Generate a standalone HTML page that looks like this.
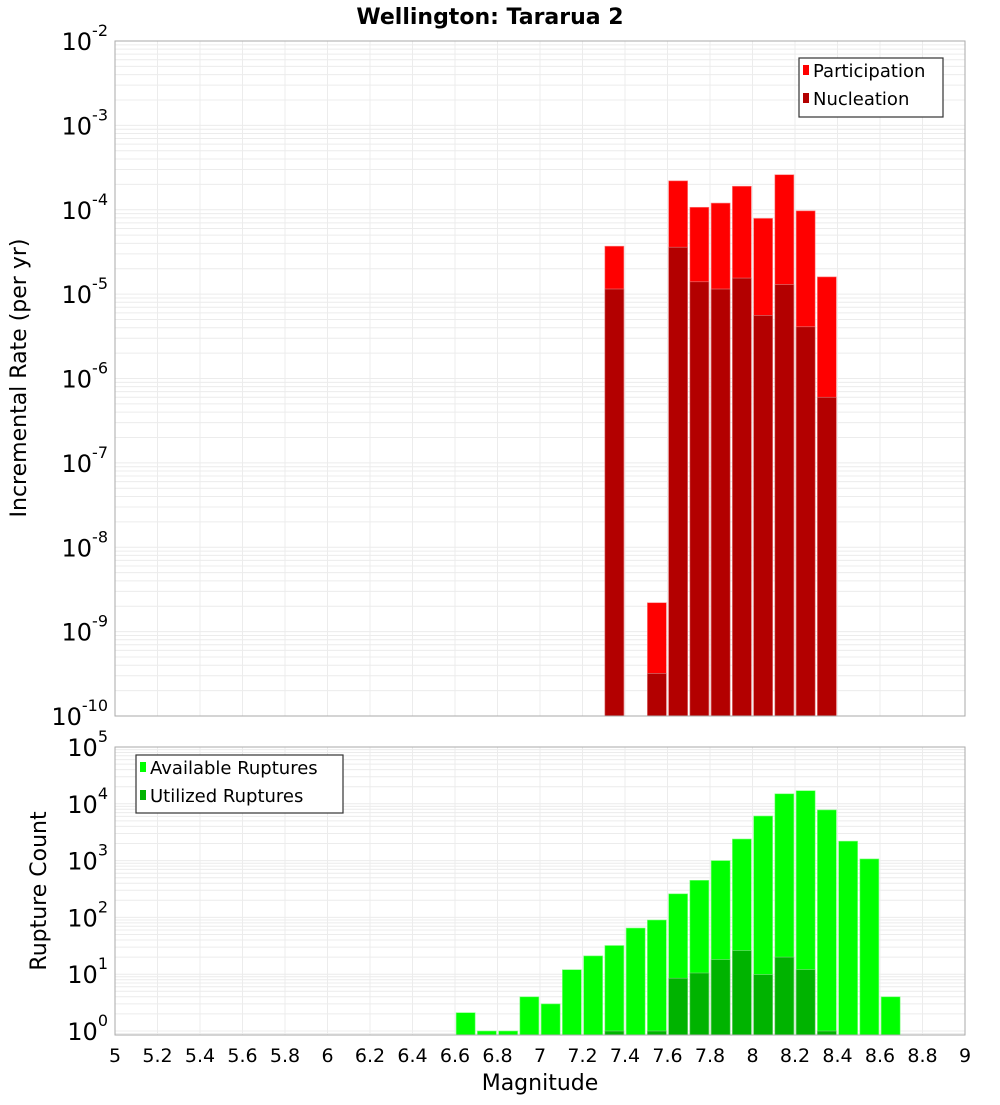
<!DOCTYPE html>
<html><head><meta charset="utf-8"><style>
body{margin:0;background:#fff;}
svg text{font-family:"DejaVu Sans","Liberation Sans",sans-serif;}
</style></head><body>
<svg id="c" width="1000" height="1100" xmlns="http://www.w3.org/2000/svg"></svg>
<script>
const mags=[6.65,6.75,6.85,6.95,7.05,7.15,7.25,7.35,7.45,7.55,7.65,7.75,7.85,7.95,8.05,8.15,8.25,8.35,8.45,8.55,8.65];
const rateMags=[7.35,7.55,7.65,7.75,7.85,7.95,8.05,8.15,8.25,8.35];
const participation=[3.7e-5,2.2e-9,2.2e-4,1.07e-4,1.2e-4,1.9e-4,7.9e-5,2.6e-4,9.7e-5,1.6e-5];
const nucleation=[1.15e-5,3.2e-10,3.6e-5,1.4e-5,1.15e-5,1.55e-5,5.6e-6,1.3e-5,4.1e-6,6e-7];
const available=[2.1,1,1,4,3,12,21,32,65,90,260,450,1000,2400,6100,15000,17000,7800,2200,1070,4];
const utilizedMags=[7.35,7.55,7.65,7.75,7.85,7.95,8.05,8.15,8.25,8.35];
const utilized=[1,1,8.5,10.5,18,26,9.8,20,12,1];
const xTicks=["5","5.2","5.4","5.6","5.8","6","6.2","6.4","6.6","6.8","7","7.2","7.4","7.6","7.8","8","8.2","8.4","8.6","8.8","9"];
const topExps=[-2,-3,-4,-5,-6,-7,-8,-9,-10];
const botExps=[5,4,3,2,1,0];

const svg=document.getElementById('c');
const NS='http://www.w3.org/2000/svg';
function el(tag,attrs,parent){const e=document.createElementNS(NS,tag);for(const k in attrs)e.setAttribute(k,attrs[k]);(parent||svg).appendChild(e);return e;}
const X0=115,X1=965;
const x=m=>X0+(m-5)/4*(X1-X0);
const T0=41,T1=716;
const yTop=v=>T0+(-2-Math.log10(v))*(T1-T0)/8;
const B0=747,DEC=56.8,B1=1035;
const yBot=v=>B0+(5-Math.log10(v))*DEC;
const BW=19;

// backgrounds / grids
function grid(top,bottom,yf,eMin,eMax){
  const g=el('g',{});
  
  
  for(let m=5;m<=9.001;m+=0.2){el('line',{x1:x(m),x2:x(m),y1:top,y2:bottom,stroke:'#ececec','stroke-width':1},g);}
  for(let e=eMin;e<=eMax;e++){for(let k=1;k<10;k++){const yy=yf(k*Math.pow(10,e));if(yy>=top-0.5&&yy<=bottom+0.5)el('line',{x1:X0,x2:X1,y1:yy,y2:yy,stroke:'#ececec','stroke-width':1},g);}}
}
grid(T0,T1,yTop,-10,-3);
grid(B0,B1,yBot,-1,4);

// top bars
rateMags.forEach((m,i)=>{
  const r=el('rect',{x:x(m)-BW/2,y:yTop(participation[i]),width:BW,height:T1-yTop(participation[i]),fill:'#ff0000',stroke:'#ff8080','stroke-width':0.6});
  
  
});
rateMags.forEach((m,i)=>{
  const r=el('rect',{x:x(m)-BW/2,y:yTop(nucleation[i]),width:BW,height:T1-yTop(nucleation[i]),fill:'#b30000',stroke:'#e08080','stroke-width':0.6});
  
  
});
// bottom bars
mags.forEach((m,i)=>{
  const r=el('rect',{x:x(m)-BW/2,y:yBot(available[i]),width:BW,height:B1-yBot(available[i]),fill:'#00ff00',stroke:'#80ff80','stroke-width':0.6});
  
  
});
utilizedMags.forEach((m,i)=>{
  const r=el('rect',{x:x(m)-BW/2,y:yBot(utilized[i]),width:BW,height:B1-yBot(utilized[i]),fill:'#00b300',stroke:'#80d080','stroke-width':0.6});
  
  
});

// frames
const f1=el('rect',{x:X0,y:T0,width:X1-X0,height:T1-T0,fill:'none',stroke:'#aaa'});


const f2=el('rect',{x:X0,y:B0,width:X1-X0,height:B1-B0,fill:'none',stroke:'#aaa'});



// y tick labels
function expLabel(yy,e,name){
  const t=el('text',{x:108,y:yy+9,'font-size':24,'text-anchor':'end',fill:'#000'});
  
  
  const a=document.createElementNS(NS,'tspan');a.textContent='10';t.appendChild(a);
  const b=document.createElementNS(NS,'tspan');b.setAttribute('dy','-14');b.setAttribute('font-size','16');b.textContent=String(e);t.appendChild(b);
  const pad=document.createElementNS(NS,'tspan');pad.setAttribute('font-size','16');pad.textContent=e<=-10?'':(e<0?'\u2007':'\u2007\u2007');
}
topExps.forEach(e=>expLabel(yTop(Math.pow(10,e)),e,'y-tick-label'));
botExps.forEach(e=>expLabel(yBot(Math.pow(10,e)),e,'y-tick-label'));
// x tick labels
xTicks.forEach(s=>{
  const t=el('text',{x:x(parseFloat(s)),y:1062,'font-size':19,'text-anchor':'middle',fill:'#000'});
  t.textContent=s;
  
  
});
// titles
let t=el('text',{x:490,y:24,'font-size':22,'font-weight':'bold','text-anchor':'middle'});t.textContent='Wellington: Tararua 2';

t=el('text',{x:540,y:1090,'font-size':22,'text-anchor':'middle'});t.textContent='Magnitude';

t=el('text',{x:0,y:0,'font-size':22,'text-anchor':'middle',transform:'translate(26,378) rotate(-90)'});t.textContent='Incremental Rate (per yr)';

t=el('text',{x:0,y:0,'font-size':22,'text-anchor':'middle',transform:'translate(46,891) rotate(-90)'});t.textContent='Rupture Count';


// legends
function legend(x0,y0,w,h,items,name){
  const g=el('g',{});
  
  
  el('rect',{x:x0,y:y0,width:w,height:h,fill:'#fff',stroke:'#333','stroke-width':1.2},g);
  items.forEach((it,i)=>{
    const yy=y0+13+i*28;
    el('rect',{x:x0+4,y:yy-6,width:6,height:10,fill:it[1]},g);
    const tx=el('text',{x:x0+14,y:yy+6,'font-size':18},g);tx.textContent=it[0];
  });
}
legend(799,58,144,59,[['Participation','#ff0000'],['Nucleation','#b30000']],'rate-legend');
legend(136,755,207,58,[['Available Ruptures','#00ff00'],['Utilized Ruptures','#00b300']],'count-legend');
</script>
</body></html>
